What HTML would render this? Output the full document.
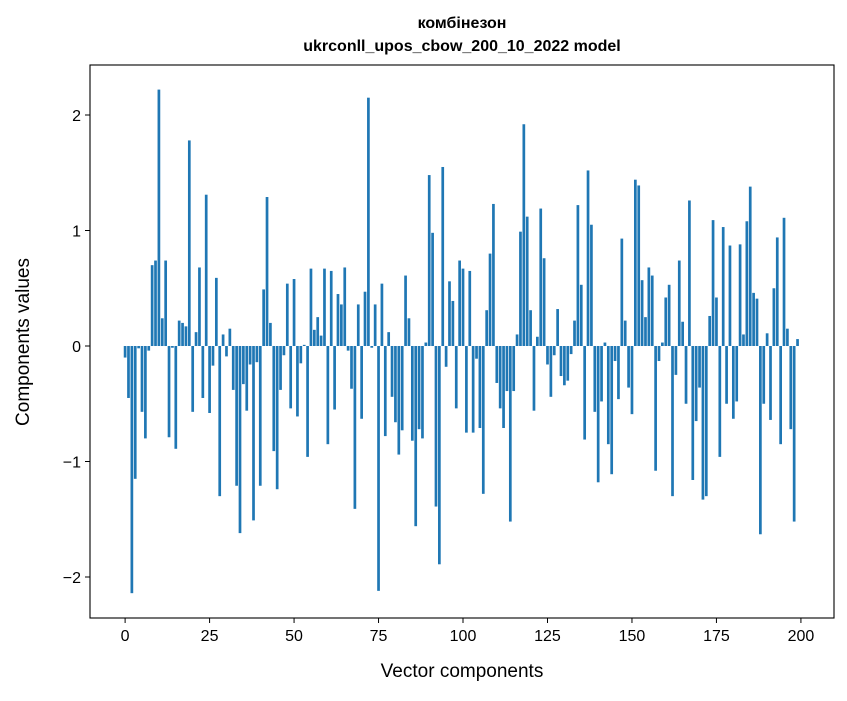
<!DOCTYPE html>
<html><head><meta charset="utf-8">
<style>
body{margin:0;background:#fff;width:847px;height:696px;overflow:hidden}
text{font-family:"Liberation Sans","DejaVu Sans",sans-serif;fill:#000}
</style></head>
<body>
<svg id="chart" width="847" height="696" xmlns="http://www.w3.org/2000/svg">
<text x="462" y="28" font-size="16" font-weight="bold" text-anchor="middle">комбінезон</text>
<text x="462" y="51" font-size="16" font-weight="bold" text-anchor="middle">ukrconll_upos_cbow_200_10_2022 model</text>
<g id="bars"></g>
<g id="axes"></g>
<text x="462" y="677" font-size="19" text-anchor="middle">Vector components</text>
<text x="29" y="342" font-size="19" text-anchor="middle" transform="rotate(-90 29 342)">Components values</text>
</svg>
<script>
const values = [-0.10,-0.45,-2.14,-1.15,-0.02,-0.57,-0.80,-0.04,0.70,0.74,
2.22,0.24,0.74,-0.79,-0.015,-0.89,0.22,0.20,0.17,1.78,
-0.57,0.12,0.68,-0.45,1.31,-0.58,-0.17,0.59,-1.30,0.10,
-0.09,0.15,-0.38,-1.21,-1.62,-0.33,-0.56,-0.16,-1.51,-0.14,
-1.21,0.49,1.29,0.20,-0.91,-1.24,-0.38,-0.08,0.54,-0.54,
0.58,-0.61,-0.15,0.01,-0.96,0.67,0.14,0.25,0.09,0.67,
-0.85,0.65,-0.55,0.45,0.36,0.68,-0.04,-0.37,-1.41,0.36,
-0.63,0.47,2.15,-0.015,0.36,-2.12,0.54,-0.78,0.12,-0.44,
-0.66,-0.94,-0.73,0.61,0.24,-0.82,-1.56,-0.72,-0.80,0.03,
1.48,0.98,-1.39,-1.89,1.55,-0.18,0.56,0.39,-0.54,0.74,
0.67,-0.75,0.65,-0.75,-0.11,-0.71,-1.28,0.31,0.80,1.23,
-0.32,-0.54,-0.71,-0.39,-1.52,-0.39,0.10,0.99,1.92,1.12,
0.31,-0.56,0.08,1.19,0.76,-0.16,-0.44,-0.08,0.32,-0.26,
-0.34,-0.30,-0.07,0.22,1.22,0.53,-0.81,1.52,1.05,-0.57,
-1.18,-0.48,0.03,-0.85,-1.11,-0.13,-0.46,0.93,0.22,-0.36,
-0.59,1.44,1.39,0.57,0.25,0.68,0.61,-1.08,-0.13,0.03,
0.42,0.53,-1.30,-0.25,0.74,0.21,-0.50,1.26,-1.16,-0.65,
-0.36,-1.33,-1.30,0.26,1.09,0.42,-0.96,1.03,-0.50,0.87,
-0.63,-0.48,0.88,0.10,1.08,1.38,0.46,0.41,-1.63,-0.50,
0.11,-0.64,0.50,0.94,-0.85,1.11,0.15,-0.72,-1.52,0.06];
const xTicks = [0,25,50,75,100,125,150,175,200];
const yTicks = [-2,-1,0,1,2];
const yTickLabels = ["\u22122","\u22121","0","1","2"];

const L=90,R=834,T=65,B=618;
const xMin=-10.39,xMax=209.79,yMin=-2.355,yMax=2.433;
const sx=v=>L+(v-xMin)/(xMax-xMin)*(R-L);
const sy=v=>B-(v-yMin)/(yMax-yMin)*(B-T);
const NS="http://www.w3.org/2000/svg";
const bars=document.getElementById('bars');
values.forEach((v,i)=>{
  const r=document.createElementNS(NS,'rect');
  const x0=sx(i-0.4),x1=sx(i+0.4);
  const y0=sy(Math.max(v,0)),y1=sy(Math.min(v,0));
  r.setAttribute('x',x0);r.setAttribute('width',x1-x0);
  r.setAttribute('y',y0);r.setAttribute('height',Math.max(y1-y0,0.3));
  r.setAttribute('fill','#1f77b4');
  
  
  bars.appendChild(r);
});
const ax=document.getElementById('axes');
const frame=document.createElementNS(NS,'rect');
frame.setAttribute('x',L);frame.setAttribute('y',T);
frame.setAttribute('width',R-L);frame.setAttribute('height',B-T);
frame.setAttribute('fill','none');frame.setAttribute('stroke','#000');frame.setAttribute('stroke-width','1.1');


ax.appendChild(frame);
xTicks.forEach(t=>{
  const x=sx(t);
  const l=document.createElementNS(NS,'line');
  l.setAttribute('x1',x);l.setAttribute('x2',x);l.setAttribute('y1',B);l.setAttribute('y2',B+5);
  l.setAttribute('stroke','#000');
  
  
  ax.appendChild(l);
  const tx=document.createElementNS(NS,'text');
  tx.setAttribute('x',x);tx.setAttribute('y',B+23);tx.setAttribute('font-size','16');tx.setAttribute('text-anchor','middle');
  tx.textContent=t;
  
  
  ax.appendChild(tx);
});
yTicks.forEach((t,k)=>{
  const y=sy(t);
  const l=document.createElementNS(NS,'line');
  l.setAttribute('x1',L-5);l.setAttribute('x2',L);l.setAttribute('y1',y);l.setAttribute('y2',y);
  l.setAttribute('stroke','#000');
  
  
  ax.appendChild(l);
  const tx=document.createElementNS(NS,'text');
  tx.setAttribute('x',L-9);tx.setAttribute('y',y+6);tx.setAttribute('font-size','16');tx.setAttribute('text-anchor','end');
  tx.textContent=yTickLabels[k];
  
  
  ax.appendChild(tx);
});
</script>
</body></html>
